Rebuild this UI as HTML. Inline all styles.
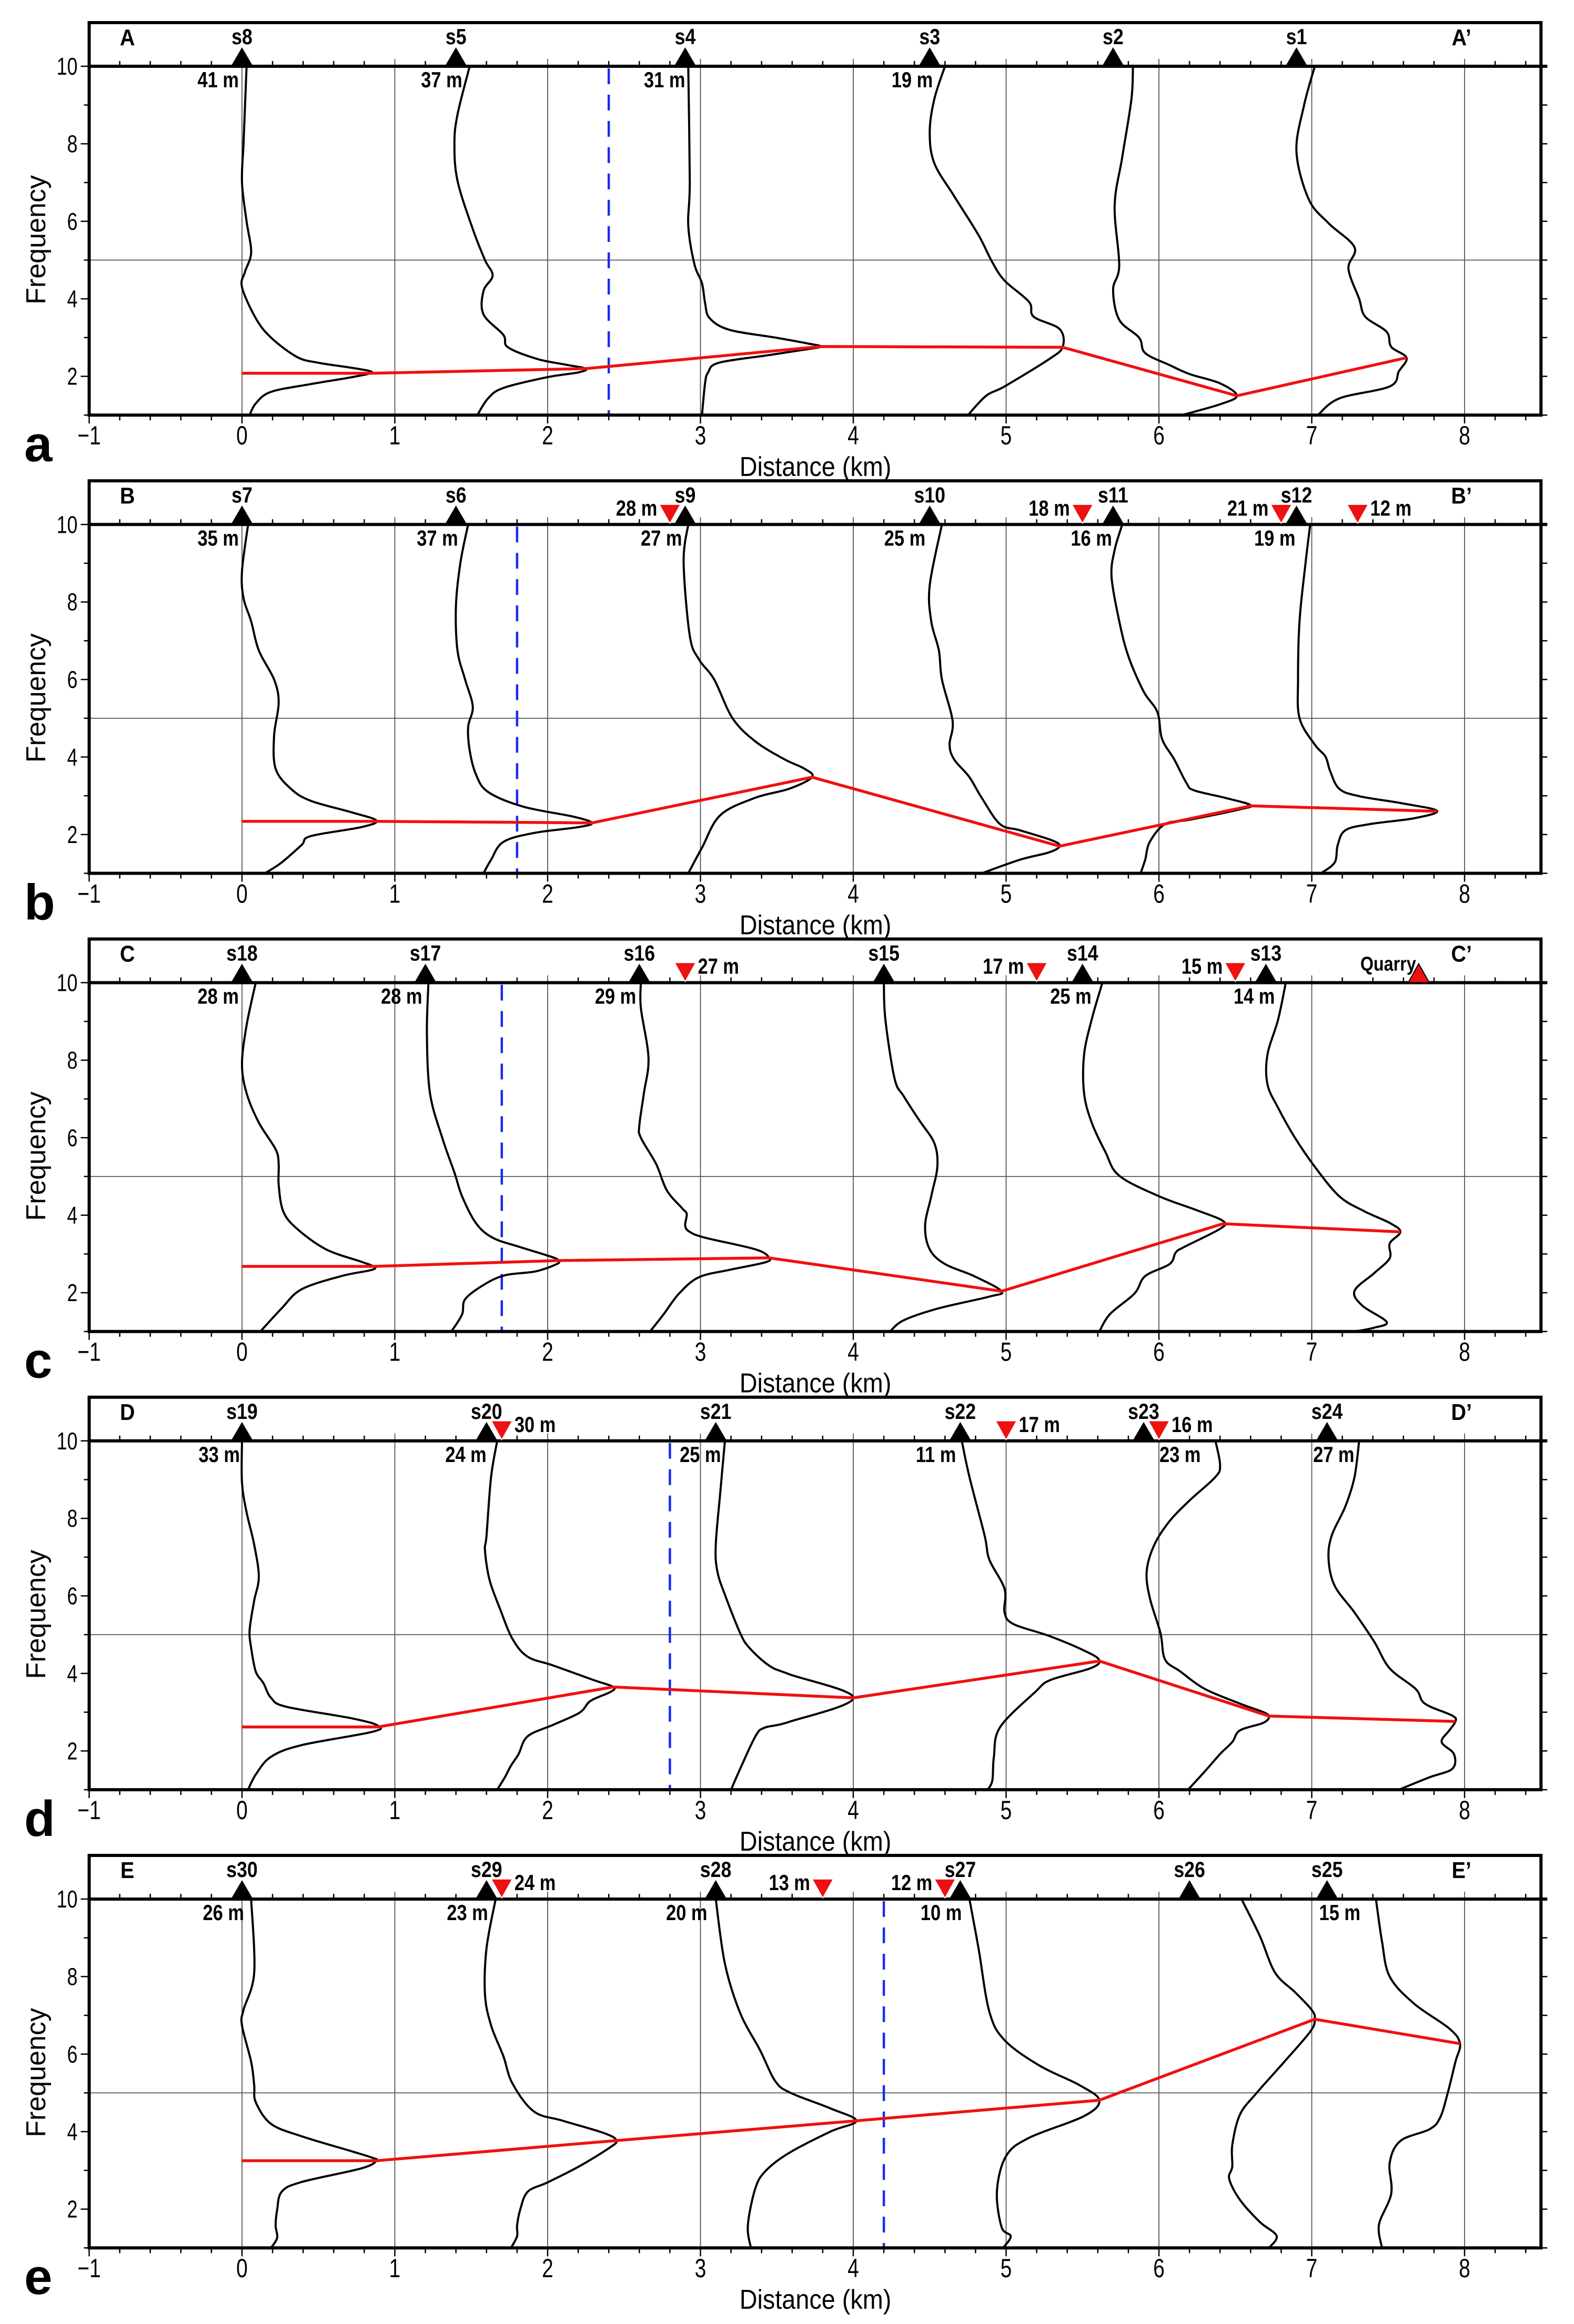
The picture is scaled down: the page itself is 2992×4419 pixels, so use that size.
<!DOCTYPE html>
<html><head><meta charset="utf-8"><title>H/V profiles</title>
<style>
html,body{margin:0;padding:0;background:#fff;}
svg{display:block;}
text{font-family:"Liberation Sans",Arial,sans-serif;}
</style></head>
<body>
<svg id="fig" xmlns="http://www.w3.org/2000/svg" width="2992" height="4419" viewBox="0 0 2992 4419"></svg>
<script>
// ---------- Panel A data ----------
const aStationNames = ["s8","s5","s4","s3","s2","s1"];
const aStationKm = [0,1.4,2.9,4.5,5.7,6.9];
const aElev = ["41 m","37 m","31 m","19 m","",""];
const aRedKm = [];
const aRedLabels = [];
const aBlueKm = 2.4;
const aPeakKm = [0,0.85,2.25,3.79,5.37,6.51,7.62];
const aPeakF = [2.08,2.08,2.2,2.77,2.75,1.5,2.48];
const aCurves = [
 [[10,0.03],[9,0.02],[8,0.01],[7,0.0],[6,0.03],[5.2,0.06],[4.7,0.02],[4.3,0.0],[3.5,0.09],[3,0.19],[2.5,0.36],[2.35,0.5],[2.2,0.75],[2.1,0.85],[1.98,0.72],[1.8,0.45],[1.6,0.19],[1.3,0.09],[1,0.05]],
 [[10,1.49],[8.75,1.41],[8,1.39],[7.05,1.41],[5.8,1.51],[5,1.59],[4.6,1.64],[4.2,1.58],[3.6,1.58],[3.07,1.71],[2.75,1.74],[2.45,1.93],[2.3,2.12],[2.2,2.25],[2.1,2.2],[1.98,2.0],[1.7,1.71],[1.43,1.61],[1,1.54]],
 [[10,2.92],[7,2.93],[5.9,2.92],[4.9,2.96],[4.4,3.01],[3.9,3.03],[3.5,3.06],[3.2,3.19],[3.0,3.49],[2.85,3.7],[2.77,3.79],[2.7,3.7],[2.55,3.45],[2.35,3.12],[2.1,3.05],[1.82,3.03],[1,3.01]],
 [[10,4.60],[9.15,4.53],[8.3,4.50],[7.5,4.53],[6.65,4.66],[5.64,4.82],[4.94,4.91],[4.47,4.99],[3.92,5.15],[3.54,5.18],[3.22,5.35],[2.76,5.37],[2.44,5.28],[1.74,4.99],[1.5,4.87],[1,4.75]],
 [[10,5.83],[9.15,5.82],[7.66,5.76],[6.4,5.71],[4.86,5.74],[4.24,5.70],[3.46,5.74],[3.0,5.87],[2.6,5.91],[2.29,6.07],[2.06,6.20],[1.82,6.40],[1.5,6.51],[1.28,6.40],[1.0,6.15]],
 [[10,7.02],[9,6.95],[7.8,6.90],[6.57,6.98],[5.95,7.11],[5.33,7.28],[4.78,7.24],[4.0,7.31],[3.54,7.35],[3.15,7.49],[2.76,7.52],[2.48,7.62],[2.13,7.57],[1.74,7.51],[1.43,7.18],[1.0,7.04]]
];
// ---------- Panel B data ----------
const bStationNames = ["s7","s6","s9","s10","s11","s12"];
const bStationKm = [0,1.4,2.9,4.5,5.7,6.9];
const bElev = ["35 m","37 m","27 m","25 m","16 m","19 m"];
const bRedKm = [2.8,5.5,6.8,7.3];
const bRedLabels = ["28 m","18 m","21  m","12 m"];
const bRedSide = ["l","l","l","r"];
const bBlueKm = 1.8;
const bPeakKm = [0,0.88,2.29,3.73,5.35,6.6,7.82];
const bPeakF = [2.34,2.34,2.3,3.48,1.7,2.74,2.6];
const bCurves = [
 [[10,0.04],[8.8,0.0],[8.1,0.01],[7.5,0.06],[6.75,0.11],[6.0,0.21],[5.4,0.24],[4.55,0.21],[3.7,0.22],[3.18,0.32],[2.87,0.45],[2.57,0.72],[2.36,0.88],[2.19,0.78],[1.96,0.45],[1.73,0.39],[1.28,0.26],[1.0,0.15]],
 [[10,1.48],[9.03,1.43],[7.9,1.40],[6.75,1.41],[6.0,1.46],[5.3,1.51],[4.78,1.48],[4.17,1.49],[3.56,1.53],[3.1,1.61],[2.72,1.84],[2.46,2.17],[2.3,2.29],[2.19,2.2],[2.04,1.91],[1.81,1.71],[1.35,1.63],[1.0,1.58]],
 [[10,2.92],[9.03,2.89],[7.13,2.93],[6.52,2.99],[6.0,3.09],[5.0,3.21],[4.4,3.36],[3.94,3.55],[3.7,3.68],[3.48,3.73],[3.18,3.58],[2.95,3.36],[2.5,3.13],[1.66,3.01],[1.0,2.92]],
 [[10,4.58],[8.43,4.50],[7.5,4.51],[6.75,4.56],[6.0,4.58],[4.93,4.65],[4.32,4.63],[3.94,4.66],[3.48,4.76],[2.95,4.84],[2.27,4.96],[2.11,5.09],[1.85,5.30],[1.7,5.35],[1.54,5.28],[1.35,5.09],[1.0,4.84]],
 [[10,5.76],[9.34,5.71],[8.65,5.69],[7.51,5.74],[6.6,5.80],[5.69,5.90],[5.16,5.99],[4.47,6.02],[3.94,6.10],[3.33,6.18],[3.14,6.23],[2.95,6.43],[2.76,6.60],[2.65,6.53],[2.38,6.20],[2.27,6.04],[1.81,5.94],[1.35,5.91],[1.0,5.88]],
 [[10,6.99],[9.03,6.96],[7.51,6.92],[6.0,6.91],[5.0,6.92],[4.32,7.02],[4.01,7.09],[3.64,7.12],[3.18,7.18],[2.99,7.31],[2.8,7.60],[2.61,7.82],[2.42,7.67],[2.27,7.38],[2.11,7.22],[1.73,7.17],[1.28,7.15],[1.0,7.06]]
];
// ---------- Panel C data ----------
const cStationNames = ["s18","s17","s16","s15","s14","s13"];
const cStationKm = [0,1.2,2.6,4.2,5.5,6.7];
const cElev = ["28 m","28 m","29 m","","25 m","14 m"];
const cRedKm = [2.9,5.2,6.5];
const cRedLabels = ["27 m","17 m","15  m"];
const cRedSide = ["r","l","l"];
const cBlueKm = 1.7;
const cQuarryKm = 7.7;
const cPeakKm = [0,0.86,2.07,3.45,4.97,6.42,7.58];
const cPeakF = [2.68,2.68,2.83,2.9,2.04,3.78,3.57];
const cCurves = [
 [[10,0.09],[8.9,0.03],[7.9,0.0],[7.15,0.03],[6.39,0.11],[5.7,0.22],[5.32,0.24],[4.79,0.24],[4.1,0.27],[3.65,0.36],[3.12,0.55],[2.8,0.78],[2.68,0.86],[2.59,0.85],[2.43,0.65],[2.09,0.39],[1.6,0.26],[1.0,0.12]],
 [[10,1.22],[8.67,1.21],[7.15,1.23],[6.0,1.31],[5.1,1.39],[4.49,1.44],[3.8,1.53],[3.42,1.64],[3.19,1.81],[2.92,2.03],[2.83,2.07],[2.74,2.06],[2.55,1.92],[2.45,1.72],[2.2,1.58],[1.83,1.46],[1.44,1.44],[1.0,1.37]],
 [[10,2.61],[9.35,2.61],[8.06,2.66],[7.15,2.63],[6.31,2.60],[6.0,2.61],[5.32,2.71],[4.64,2.78],[4.18,2.88],[4.03,2.91],[3.73,2.90],[3.57,2.93],[3.42,3.03],[3.12,3.36],[2.9,3.45],[2.78,3.42],[2.59,3.19],[2.4,2.99],[1.98,2.86],[1.45,2.76],[1.0,2.67]],
 [[10,4.2],[9.05,4.21],[7.53,4.27],[7.07,4.33],[6.46,4.43],[5.86,4.53],[5.25,4.55],[4.49,4.51],[3.73,4.47],[3.12,4.50],[2.74,4.60],[2.43,4.79],[2.04,4.97],[1.9,4.89],[1.6,4.56],[1.29,4.33],[1.0,4.24]],
 [[10,5.63],[9.05,5.56],[8.14,5.51],[7.15,5.51],[6.39,5.56],[5.63,5.65],[5.02,5.74],[4.49,6.0],[4.14,6.24],[3.85,6.42],[3.65,6.40],[3.19,6.17],[3.04,6.11],[2.74,6.07],[2.43,5.91],[1.98,5.84],[1.45,5.68],[1.0,5.61]],
 [[10,6.83],[9.05,6.78],[8.14,6.71],[7.38,6.71],[6.77,6.78],[6.0,6.89],[5.25,7.02],[4.49,7.18],[4.11,7.34],[3.8,7.51],[3.57,7.58],[3.27,7.51],[2.89,7.51],[2.51,7.41],[2.05,7.28],[1.67,7.33],[1.25,7.49],[1.1,7.41],[1.0,7.28]]
];
// ---------- Panel D data ----------
const dStationNames = ["s19","s20","s21","s22","s23","s24"];
const dStationKm = [0,1.6,3.1,4.7,5.9,7.1];
const dElev = ["33 m","24 m","25 m","11 m","23  m","27 m"];
const dRedKm = [1.7,5.0,6.0];
const dRedLabels = ["30 m","17 m","16 m"];
const dRedSide = ["r","r","r"];
const dBlueKm = 2.8;
const dPeakKm = [0,0.89,2.43,4.0,5.61,6.72,7.94];
const dPeakF = [2.62,2.62,3.65,3.37,4.32,2.9,2.76];
const dCurves = [
 [[10,0],[8.92,0],[8.16,0.03],[7.32,0.08],[6.49,0.11],[5.88,0.08],[5.12,0.05],[4.66,0.06],[4.05,0.09],[3.75,0.14],[3.37,0.19],[3.14,0.29],[2.84,0.72],[2.65,0.89],[2.49,0.85],[2.15,0.39],[1.85,0.19],[1.39,0.09],[1.0,0.04]],
 [[10,1.67],[9.07,1.63],[7.55,1.60],[7.17,1.59],[6.41,1.62],[5.65,1.69],[4.89,1.77],[4.43,1.87],[4.2,2.04],[3.83,2.30],[3.65,2.43],[3.52,2.41],[3.29,2.28],[2.99,2.21],[2.68,2.04],[2.38,1.87],[1.92,1.81],[1.62,1.76],[1.32,1.72],[1.0,1.67]],
 [[10,3.16],[8.69,3.13],[7.32,3.10],[6.64,3.11],[6.03,3.16],[5.04,3.26],[4.66,3.32],[4.2,3.45],[3.98,3.58],[3.37,4.0],[2.75,3.58],[2.6,3.42],[2.38,3.36],[1.54,3.26],[1.0,3.2]],
 [[10,4.71],[9.07,4.76],[7.55,4.86],[6.94,4.89],[6.18,4.99],[5.57,4.99],[5.27,5.05],[4.97,5.28],[4.59,5.51],[4.34,5.61],[4.13,5.55],[3.83,5.29],[3.52,5.19],[2.61,4.96],[1.85,4.92],[1.24,4.91],[1.0,4.88]],
 [[10,6.37],[9.38,6.40],[9.07,6.37],[8.46,6.20],[7.93,6.07],[7.32,5.97],[6.64,5.92],[5.95,5.94],[5.04,6.01],[4.36,6.04],[4.05,6.14],[3.6,6.30],[3.22,6.53],[2.99,6.69],[2.87,6.72],[2.72,6.68],[2.53,6.53],[2.23,6.48],[1.92,6.40],[1.47,6.30],[1.0,6.19]],
 [[10,7.31],[9.07,7.28],[8.31,7.22],[7.55,7.13],[6.94,7.11],[6.26,7.15],[5.57,7.28],[4.81,7.41],[4.13,7.51],[3.6,7.68],[3.22,7.74],[2.91,7.92],[2.76,7.94],[2.53,7.90],[2.23,7.85],[1.92,7.93],[1.54,7.92],[1.32,7.77],[1.0,7.57]]
];
// ---------- Panel E data ----------
const eStationNames = ["s30","s29","s28","s27","s26","s25"];
const eStationKm = [0,1.6,3.1,4.7,6.2,7.1];
const eElev = ["26 m","23 m","20 m","10 m","","15 m"];
const eRedKm = [1.7,3.8,4.6];
const eRedLabels = ["24 m","13 m","12 m"];
const eRedSide = ["r","l","l"];
const eBlueKm = 4.2;
const ePeakKm = [0,0.88,2.45,4.02,5.61,7.02,7.97];
const ePeakF = [3.25,3.25,3.77,4.28,4.81,6.9,6.27];
const eCurves = [
 [[10,0.06],[8.1,0.08],[7.14,0.01],[6.74,0.0],[5.8,0.06],[5.2,0.08],[4.76,0.09],[4.2,0.19],[3.88,0.39],[3.49,0.72],[3.33,0.85],[3.25,0.88],[3.05,0.78],[2.7,0.39],[2.45,0.26],[1.98,0.23],[1.58,0.22],[1.26,0.23],[1.0,0.19]],
 [[10,1.66],[8.73,1.60],[7.54,1.59],[6.74,1.63],[5.95,1.71],[5.24,1.77],[4.52,1.91],[4.28,2.10],[3.96,2.37],[3.77,2.45],[3.57,2.40],[3.09,2.20],[2.69,2.0],[2.45,1.87],[1.98,1.82],[1.58,1.80],[1.3,1.80],[1.0,1.76]],
 [[10,3.10],[8.33,3.16],[7.06,3.26],[6.1,3.39],[5.3,3.49],[5.0,3.59],[4.6,3.85],[4.28,4.02],[4.0,3.85],[3.45,3.58],[3.0,3.43],[2.55,3.36],[1.58,3.31],[1.0,3.33]],
 [[10,4.76],[8.72,4.82],[7.1,4.89],[6.36,4.99],[5.7,5.22],[5.2,5.48],[4.81,5.61],[4.4,5.51],[3.84,5.15],[3.37,5.0],[2.47,4.94],[1.54,4.97],[1.3,5.03],[1.0,4.98]],
 [[10,6.54],[9.05,6.66],[8.1,6.76],[7.6,6.89],[7.14,7.0],[6.9,7.02],[6.58,6.99],[5.8,6.82],[5.0,6.64],[4.44,6.53],[3.65,6.48],[3.1,6.48],[2.78,6.46],[2.24,6.53],[1.67,6.66],[1.31,6.77],[1.0,6.72]],
 [[10,7.42],[8.9,7.46],[8.0,7.51],[7.3,7.67],[6.66,7.90],[6.27,7.97],[5.8,7.94],[5.0,7.89],[4.36,7.84],[4.06,7.77],[3.76,7.58],[3.2,7.51],[2.4,7.52],[1.6,7.44],[1.0,7.46]]
];
// ---------- axis tick labels ----------
const xTickLabels = ["\u22121","0","1","2","3","4","5","6","7","8"];
const yTickLabels = ["2","4","6","8","10"];

// ---------- layout ----------
const NS = "http://www.w3.org/2000/svg";
const svg = document.getElementById("fig");
const X0 = 460, KM = 290.5;
const PERIOD = 871.25, TOP0 = 43;
function X(km){ return X0 + km*KM; }
function panelTop(k){ return TOP0 + k*PERIOD; }
function Yf(k,f){ return panelTop(k) + 83 + (10-f)*73.7; }
const XL = X(-1), XR = X(8.5);

function el(tag, attrs, parent){
  const e = document.createElementNS(NS, tag);
  for (const k in attrs) e.setAttribute(k, attrs[k]);
  (parent||svg).appendChild(e);
  return e;
}
function txt(parent, x, y, s, size, anchor, weight, sx, fill){
  const t = el("text", {transform:`translate(${x},${y}) scale(${sx||1},1)`, "font-size":size, "text-anchor":anchor||"start", "font-weight":weight||"normal", fill:fill||"#000"}, parent);
  t.textContent = s;
  return t;
}
function smoothPath(pts){
  if (pts.length < 2) return "";
  let d = `M${pts[0][0].toFixed(1)},${pts[0][1].toFixed(1)}`;
  for (let i=0;i<pts.length-1;i++){
    const p0 = pts[i-1]||pts[i], p1 = pts[i], p2 = pts[i+1], p3 = pts[i+2]||p2;
    const c1x = p1[0]+(p2[0]-p0[0])/6, c1y = p1[1]+(p2[1]-p0[1])/6;
    const c2x = p2[0]-(p3[0]-p1[0])/6, c2y = p2[1]-(p3[1]-p1[1])/6;
    d += ` C${c1x.toFixed(1)},${c1y.toFixed(1)} ${c2x.toFixed(1)},${c2y.toFixed(1)} ${p2[0].toFixed(1)},${p2[1].toFixed(1)}`;
  }
  return d;
}

const panels = [
 {L:"a", A:"A", B:"A\u2019", names:aStationNames, km:aStationKm, elev:aElev, redKm:aRedKm, redLab:aRedLabels, redSide:[], blue:aBlueKm, pk:aPeakKm, pf:aPeakF, curves:aCurves, elevDx:[-6,12,0,6,0,0], elevAnchor:["end","end","end","end","end","end"]},
 {L:"b", A:"B", B:"B\u2019", names:bStationNames, km:bStationKm, elev:bElev, redKm:bRedKm, redLab:bRedLabels, redSide:bRedSide, blue:bBlueKm, pk:bPeakKm, pf:bPeakF, curves:bCurves, elevDx:[-6,4,-6,-8,-2,-2], elevAnchor:["end","end","end","end","end","end"]},
 {L:"c", A:"C", B:"C\u2019", names:cStationNames, km:cStationKm, elev:cElev, redKm:cRedKm, redLab:cRedLabels, redSide:cRedSide, blue:cBlueKm, pk:cPeakKm, pf:cPeakF, curves:cCurves, quarry:cQuarryKm, elevDx:[-6,-6,-6,0,17,17], elevAnchor:["end","end","end","end","end","end"]},
 {L:"d", A:"D", B:"D\u2019", names:dStationNames, km:dStationKm, elev:dElev, redKm:dRedKm, redLab:dRedLabels, redSide:dRedSide, blue:dBlueKm, pk:dPeakKm, pf:dPeakF, curves:dCurves, elevDx:[-4,0,10,-8,30,52], elevAnchor:["end","end","end","end","start","end"]},
 {L:"e", A:"E", B:"E\u2019", names:eStationNames, km:eStationKm, elev:eElev, redKm:eRedKm, redLab:eRedLabels, redSide:eRedSide, blue:eBlueKm, pk:ePeakKm, pf:ePeakF, curves:eCurves, elevDx:[4,3,-16,3,0,-15], elevAnchor:["end","end","end","end","end","start"]}
];

panels.forEach((P,k)=>{
  const T = panelTop(k), y10 = Yf(k,10), yB = Yf(k,1);
  const g = el("g", {});
  
  

  const grid = el("g", {stroke:"#555", "stroke-width":1.8}, g);
  
  
  for (let km=0; km<=8; km++){
    el("line", {x1:X(km), x2:X(km), y1:y10-14, y2:yB}, grid);
  }
  el("line", {x1:XL, x2:XR, y1:Yf(k,5), y2:Yf(k,5)}, grid);

  const ticks = el("g", {stroke:"#000", "stroke-width":2.5}, g);
  
  
  for (let i=0;i<=47;i++){
    const km = -1 + i*0.2;
    const major = Math.abs(km - Math.round(km)) < 1e-6;
    el("line", {x1:X(km), x2:X(km), y1:yB, y2:yB + (major?16:10)}, ticks);
    if (!major) el("line", {x1:X(km), x2:X(km), y1:y10, y2:y10-10}, ticks);
  }
  for (let f=1; f<=10; f++){
    const major = f%2===0;
    el("line", {x1:XL, x2:XL-(major?16:10), y1:Yf(k,f), y2:Yf(k,f)}, ticks);
    if (f<10 && f>1) el("line", {x1:XR, x2:XR+12, y1:Yf(k,f), y2:Yf(k,f)}, ticks);
  }
  el("line", {x1:XR, x2:XR+12, y1:y10, y2:y10}, ticks);
  el("line", {x1:XR, x2:XR+12, y1:yB, y2:yB}, ticks);

  const blue = el("line", {x1:X(P.blue), x2:X(P.blue), y1:y10+4, y2:yB, stroke:"#1a2cf0", "stroke-width":4.5, "stroke-dasharray":"30,20"}, g);
  
  

  P.curves.forEach((c,i)=>{
    const pts = c.map(p=>[X(p[1]), Yf(k,p[0])]);
    const path = el("path", {d:smoothPath(pts), fill:"none", stroke:"#000", "stroke-width":4, "stroke-linejoin":"round"}, g);
    
    
  });

  const rp = P.pk.map((km,i)=>`${X(km).toFixed(1)},${Yf(k,P.pf[i]).toFixed(1)}`).join(" ");
  const red = el("polyline", {points:rp, fill:"none", stroke:"#f01010", "stroke-width":5.5, "stroke-linejoin":"round"}, g);
  
  

  const fr = el("g", {stroke:"#000", fill:"none"}, g);
  
  
  el("rect", {x:XL, y:T, width:XR-XL, height:yB-T, "stroke-width":6}, fr);
  el("line", {x1:XL, x2:XR+12, y1:y10, y2:y10, "stroke-width":6}, fr);

  P.names.forEach((n,i)=>{
    const x = X(P.km[i]);
    const tri = el("polygon", {points:`${x-21},${y10} ${x+21},${y10} ${x},${y10-36}`, fill:"#000"}, g);
    
    
    const lab = txt(g, x, T+41, n, 42, "middle", "bold", 0.85);
    
    
    if (P.elev[i]){
      const ev = txt(g, x + P.elevDx[i], T+123, P.elev[i], 42, P.elevAnchor[i], "bold", 0.82);
      
      
    }
  });

  P.redKm.forEach((km,i)=>{
    const x = X(km);
    const rt = el("polygon", {points:`${x-20},${y10-38} ${x+20},${y10-38} ${x},${y10-2}`, fill:"#ee1111", stroke:"#fff", "stroke-width":1.5}, g);
    
    
    const right = P.redSide[i]==="r";
    const rl = txt(g, right ? x+24 : x-24, T+66, P.redLab[i], 42, right?"start":"end", "bold", 0.82);
    
    
  });

  if (P.quarry !== undefined){
    const x = X(P.quarry);
    const q = el("polygon", {points:`${x-20},${y10} ${x+20},${y10} ${x},${y10-36}`, fill:"#ee1111", stroke:"#000", "stroke-width":2}, g);
    
    
    const ql = txt(g, X(7.5), T+60, "Quarry", 38, "middle", "bold", 0.85);
    
    
  }

  const la = txt(g, X(-0.75), T+43, P.A, 44, "middle", "bold", 0.9);
  
  
  const lb = txt(g, X(7.98), T+43, P.B, 44, "middle", "bold", 0.9);
  
  

  xTickLabels.forEach((s,i)=>{
    const t = txt(g, X(i-1), T+802, s, 50, "middle", "normal", 0.78);
    
    
  });
  yTickLabels.forEach((s,i)=>{
    const f = (i+1)*2;
    const t = txt(g, XL-22, Yf(k,f)+16, s, 46, "end", "normal", 0.78);
    
    
  });

  const xt = txt(g, 1550, T+862, "Distance (km)", 52, "middle", "normal", 0.9);
  
  

  const yt = el("text", {transform:`translate(86,${T+413}) rotate(-90)`, "font-size":52, "text-anchor":"middle"}, g);
  yt.textContent = "Frequency";
  
  

  const pl = txt(g, 46, T+834, P.L, 96, "start", "bold");
  
  
});
</script>
</body></html>
